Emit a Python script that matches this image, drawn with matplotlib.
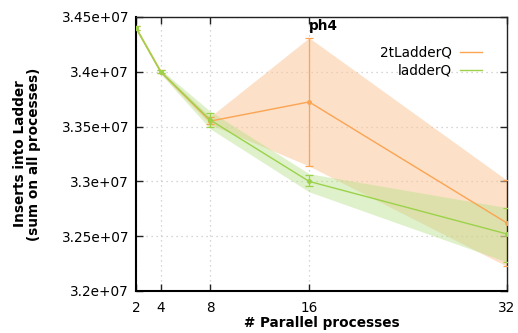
import matplotlib
matplotlib.use("Agg")
import matplotlib.pyplot as plt
from matplotlib.ticker import FuncFormatter, FixedLocator
import numpy as np

# Number of parallel processes
procs = [2, 4, 8, 16, 32]

# 2tLadderQ: mean inserts, error bar limits and shaded range
two_t_mean = [3.440e7, 3.400e7, 3.355e7, 3.3725e7, 3.262e7]
two_t_lo = [3.4385e7, 3.3985e7, 3.352e7, 3.314e7, 3.2225e7]
two_t_hi = [3.4415e7, 3.4015e7, 3.359e7, 3.431e7, 3.301e7]

# ladderQ: mean inserts, error bar limits and shaded range
ladder_mean = [3.440e7, 3.400e7, 3.356e7, 3.300e7, 3.252e7]
ladder_lo = [3.4385e7, 3.3985e7, 3.3495e7, 3.2955e7, 3.2265e7]
ladder_hi = [3.4415e7, 3.4015e7, 3.3625e7, 3.3055e7, 3.2760e7]
ladder_band_lo = [3.4380e7, 3.3980e7, 3.3480e7, 3.2905e7, 3.2265e7]
ladder_band_hi = [3.4420e7, 3.4020e7, 3.3640e7, 3.3070e7, 3.2760e7]

y_ticks = [3.2e7, 3.25e7, 3.3e7, 3.35e7, 3.4e7, 3.45e7]

orange = "#fba452"
orange_fill = "#fbc79a"
green = "#9bd24a"
green_fill = "#b8e08a"

fs = 9.8

fig = plt.figure(figsize=(5.18, 3.33), dpi=100)
ax = fig.add_axes([136 / 518, 1 - 291 / 333, (507 - 136) / 518, (291 - 17) / 333])

ax.fill_between(procs, two_t_lo, two_t_hi, color=orange_fill, alpha=0.55, lw=0, zorder=1)
ax.fill_between(procs, ladder_band_lo, ladder_band_hi, color=green_fill, alpha=0.45, lw=0, zorder=2)

def draw_series(mean, lo, hi, color, label, z):
    mean = np.array(mean)
    yerr = np.vstack([mean - np.array(lo), np.array(hi) - mean])
    ax.errorbar(procs, mean, yerr=yerr, color=color, lw=1.0, elinewidth=0.9,
                capsize=3, capthick=0.9, marker="o", ms=2.5, zorder=z)
    ax.plot([], [], color=color, lw=1.0, label=label)

draw_series(two_t_mean, two_t_lo, two_t_hi, orange, "2tLadderQ", 4)
draw_series(ladder_mean, ladder_lo, ladder_hi, green, "ladderQ", 5)

ax.set_xlim(2, 32)
ax.set_ylim(3.2e7, 3.45e7)
ax.xaxis.set_major_locator(FixedLocator(procs))
ax.yaxis.set_major_locator(FixedLocator(y_ticks))
ax.yaxis.set_major_formatter(FuncFormatter(lambda v, p: "%g" % v))

ax.grid(True, color="#c8c8c8", linestyle=(0, (1, 3)), lw=0.9)
ax.set_axisbelow(True)

ax.tick_params(axis="x", direction="in", top=True, length=5, width=1.0,
               labelsize=fs, pad=7, color="#222222")
ax.tick_params(axis="y", direction="in", right=True, length=5, width=1.0,
               labelsize=fs, pad=5, color="#222222")
for side in ["left", "bottom"]:
    ax.spines[side].set_linewidth(1.5)
    ax.spines[side].set_color("black")
for side in ["top", "right"]:
    ax.spines[side].set_linewidth(1.0)
    ax.spines[side].set_color("#222222")

ax.set_xlabel("# Parallel processes", fontsize=fs, fontweight="bold")
ax.xaxis.set_label_coords(0.5, -(316 - 291) / 274)
ax.set_ylabel("Inserts into Ladder\n(sum on all processes)", fontsize=fs,
              fontweight="bold", linespacing=1.05)
ax.yaxis.set_label_coords(-(136 - 27) / 371, 0.5)
ax.yaxis.label.set_va("center")

ax.text(16, 3.4485e7, "ph4", fontsize=fs, fontweight="bold", ha="left", va="top")

leg = ax.legend(loc="upper right", bbox_to_anchor=((480 - 136) / 371 + 0.005, (291 - 46) / 274),
                frameon=False, fontsize=fs, markerfirst=False, handlelength=1.6,
                handletextpad=0.6, labelspacing=0.25, borderaxespad=0, borderpad=0)
for t in leg.get_texts():
    t.set_ha("right")
leg._legend_box.align = "right"

fig.savefig("out.png", dpi=100)
